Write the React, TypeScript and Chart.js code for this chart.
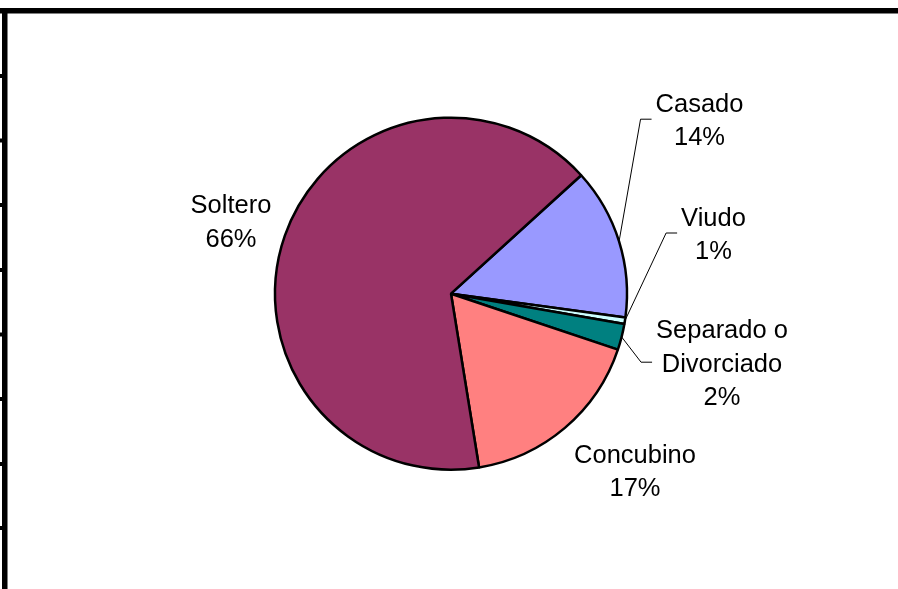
import { useEffect, useRef } from 'react';
import { Chart, ArcElement, PieController } from 'chart.js';

Chart.register(PieController, ArcElement);

const categories: string[][] = [['Casado'], ['Viudo'], ['Separado o', 'Divorciado'], ['Concubino'], ['Soltero']];
const values = [13.9, 0.6, 2.4, 17.3, 65.8];
const colors = ['#9999FF', '#CCFFFF', '#008080', '#FF8080', '#993366'];
// label block centre offsets from the pie centre (layout), and whether a leader line is drawn
const labelOffsets = [[248.5, -174.5], [262.5, -60.7], [271, 68.5], [184, 176.5], [-220, -73]];
const hasLeader = [true, true, true, false, false];
// decorative frame ticks on the left edge
const frameTicks = [76, 140.5, 205, 270, 334.5, 399, 464, 528];

const FONT = '25.5px "Liberation Sans", Arial, sans-serif';
const LINE_H = 33.5;

const framePlugin = {
  id: 'frame',
  beforeDraw(chart: any) {
    const ctx = chart.ctx;
    ctx.save();
    ctx.fillStyle = '#ffffff';
    ctx.fillRect(0, 0, chart.width, chart.height);
    ctx.fillStyle = '#000000';
    ctx.fillRect(0, 8, chart.width, 5.5);
    ctx.fillRect(2, 8, 5.5, chart.height - 8);
    frameTicks.forEach((t) => ctx.fillRect(0, t - 2, 3, 4));
    ctx.restore();
  },
};

const labelPlugin = {
  id: 'pieLabels',
  afterDatasetsDraw(chart: any) {
    const ctx = chart.ctx;
    const meta = chart.getDatasetMeta(0);
    const total = values.reduce((a, b) => a + b, 0);
    ctx.save();
    ctx.font = FONT;
    ctx.fillStyle = '#000000';
    ctx.strokeStyle = '#000000';
    ctx.lineWidth = 1;
    ctx.textAlign = 'center';
    ctx.textBaseline = 'alphabetic';
    meta.data.forEach((arc: any, i: number) => {
      const { x, y, startAngle, endAngle, outerRadius } = arc.getProps(
        ['x', 'y', 'startAngle', 'endAngle', 'outerRadius'],
        true
      );
      const lines = [...categories[i], Math.round((values[i] / total) * 100) + '%'];
      const cx = x + labelOffsets[i][0];
      const cy = y + labelOffsets[i][1];
      const n = lines.length;
      let left = Infinity;
      lines.forEach((t, j) => {
        const w = ctx.measureText(t).width;
        left = Math.min(left, cx - w / 2);
        const ly = cy + (j - (n - 1) / 2) * LINE_H;
        ctx.fillText(t, cx, ly + 9.3);
      });
      if (hasLeader[i]) {
        const mid = (startAngle + endAngle) / 2;
        const ex = x + Math.cos(mid) * outerRadius;
        const ey = y + Math.sin(mid) * outerRadius;
        ctx.beginPath();
        ctx.moveTo(ex, ey);
        ctx.lineTo(left - 15, cy);
        ctx.lineTo(left - 4, cy);
        ctx.stroke();
      }
    });
    ctx.restore();
  },
};

export default function App() {
  const ref = useRef<HTMLCanvasElement | null>(null);
  useEffect(() => {
    if (!ref.current) return;
    const chart = new Chart(ref.current, {
      type: 'pie',
      data: {
        labels: categories.map((c) => c.join(' ')),
        datasets: [
          {
            data: values,
            backgroundColor: colors,
            borderColor: '#000000',
            borderWidth: 2.5,
            hoverBorderWidth: 2.5,
            radius: 176,
          } as any,
        ],
      },
      options: {
        responsive: false,
        animation: false,
        events: [],
        rotation: 47.7,
        layout: { padding: { left: 60, right: 56, top: 60, bottom: 61.6 } },
        plugins: { legend: { display: false }, tooltip: { enabled: false } } as any,
      },
      plugins: [framePlugin, labelPlugin],
    });
    return () => chart.destroy();
  }, []);
  return (
    <div style={{ position: 'absolute', left: 0, top: 0, width: 898, height: 589, background: '#fff' }}>
      <canvas ref={ref} width={898} height={589} style={{ display: 'block', width: 898, height: 589 }} />
    </div>
  );
}
